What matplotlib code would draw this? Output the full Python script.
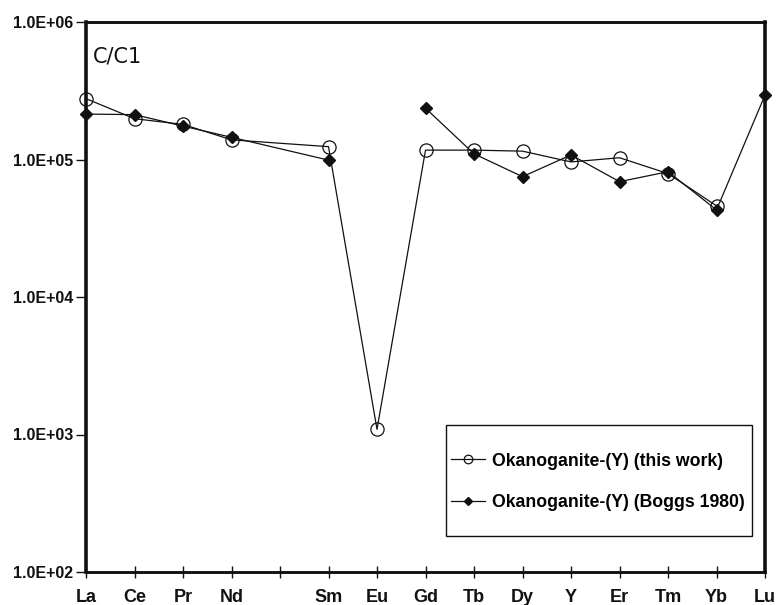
import numpy as np
import matplotlib
matplotlib.use("Agg")
import matplotlib.pyplot as plt
from matplotlib.patches import Rectangle
from matplotlib.ticker import FixedLocator, FuncFormatter, NullLocator

# tick slots along the x axis (Pm slot left blank)
tick_labels = ["La", "Ce", "Pr", "Nd", "", "Sm", "Eu", "Gd", "Tb", "Dy", "Y", "Er", "Tm", "Yb", "Lu"]
elements = ["La", "Ce", "Pr", "Nd", "Sm", "Eu", "Gd", "Tb", "Dy", "Y", "Er", "Tm", "Yb", "Lu"]

# chondrite normalised values
this_work = [2.77e5, 1.98e5, 1.80e5, 1.39e5, 1.24e5, 1.09e3, 1.17e5,
             1.17e5, 1.15e5, 9.6e4, 1.03e5, 7.9e4, 4.6e4, np.nan]
boggs_1980 = [2.14e5, 2.12e5, 1.75e5, 1.45e5, 9.9e4, np.nan, 2.36e5,
              1.10e5, 7.5e4, 1.08e5, 6.9e4, 8.15e4, 4.3e4, 2.94e5]

label_a = "Okanoganite-(Y) (this work)"
label_b = "Okanoganite-(Y) (Boggs 1980)"

pos = [tick_labels.index(e) for e in elements]

fig = plt.figure(figsize=(7.76, 6.05), dpi=100)
ax = fig.add_axes([86 / 776, 33 / 605, 679 / 776, 550 / 605])

ink = "#111111"
ax.plot(pos, this_work, color=ink, lw=0.9, marker="o", ms=9.5,
        mfc="none", mec=ink, mew=0.9, clip_on=False, label=label_a, zorder=3)
ax.plot(pos, boggs_1980, color=ink, lw=0.9, marker="D", ms=6.5,
        mfc=ink, mec=ink, clip_on=False, label=label_b, zorder=4)

ax.set_yscale("log")
ax.set_ylim(1e2, 1e6)
ax.set_xlim(0, len(tick_labels) - 1)

ax.yaxis.set_major_locator(FixedLocator([1e2, 1e3, 1e4, 1e5, 1e6]))
ax.yaxis.set_minor_locator(NullLocator())
ax.yaxis.set_major_formatter(FuncFormatter(lambda v, p: "%.1fE+%02d" % (1.0, round(np.log10(v)))))
ax.set_xticks(range(len(tick_labels)))
ax.set_xticklabels(tick_labels)

for lab in ax.get_yticklabels():
    lab.set_fontfamily("Liberation Sans")
    lab.set_fontweight("bold")
    lab.set_fontsize(11.5)
for lab in ax.get_xticklabels():
    lab.set_fontfamily("Liberation Sans")
    lab.set_fontweight("bold")
    lab.set_fontsize(13)

ax.tick_params(axis="y", direction="out", length=7, width=1, pad=2, colors=ink)
ax.tick_params(axis="x", direction="inout", length=8, width=1, pad=8, colors=ink)

for side in ["left", "right"]:
    ax.spines[side].set_linewidth(2.6)
for side in ["top", "bottom"]:
    ax.spines[side].set_linewidth(2.1)
for s in ax.spines.values():
    s.set_color(ink)

ax.text(0.01, 0.955, "C/C1", transform=ax.transAxes, fontsize=15,
        family="DejaVu Sans", va="top", ha="left", color=ink)

# legend box drawn by hand, entries placed inside it
ax.add_patch(Rectangle((0.5302, 0.0655), 0.4507, 0.2018, transform=ax.transAxes,
                       fill=False, edgecolor=ink, lw=1.0, zorder=5))
leg = ax.legend(loc="center left", bbox_to_anchor=(0.5376, 0.1636),
                prop={"family": "Liberation Sans", "weight": "bold", "size": 12.7},
                frameon=False, borderpad=0, borderaxespad=0,
                labelspacing=1.4, handlelength=1.9, handletextpad=0.45,
                markerscale=0.65)

fig.savefig("out.png", dpi=100)
